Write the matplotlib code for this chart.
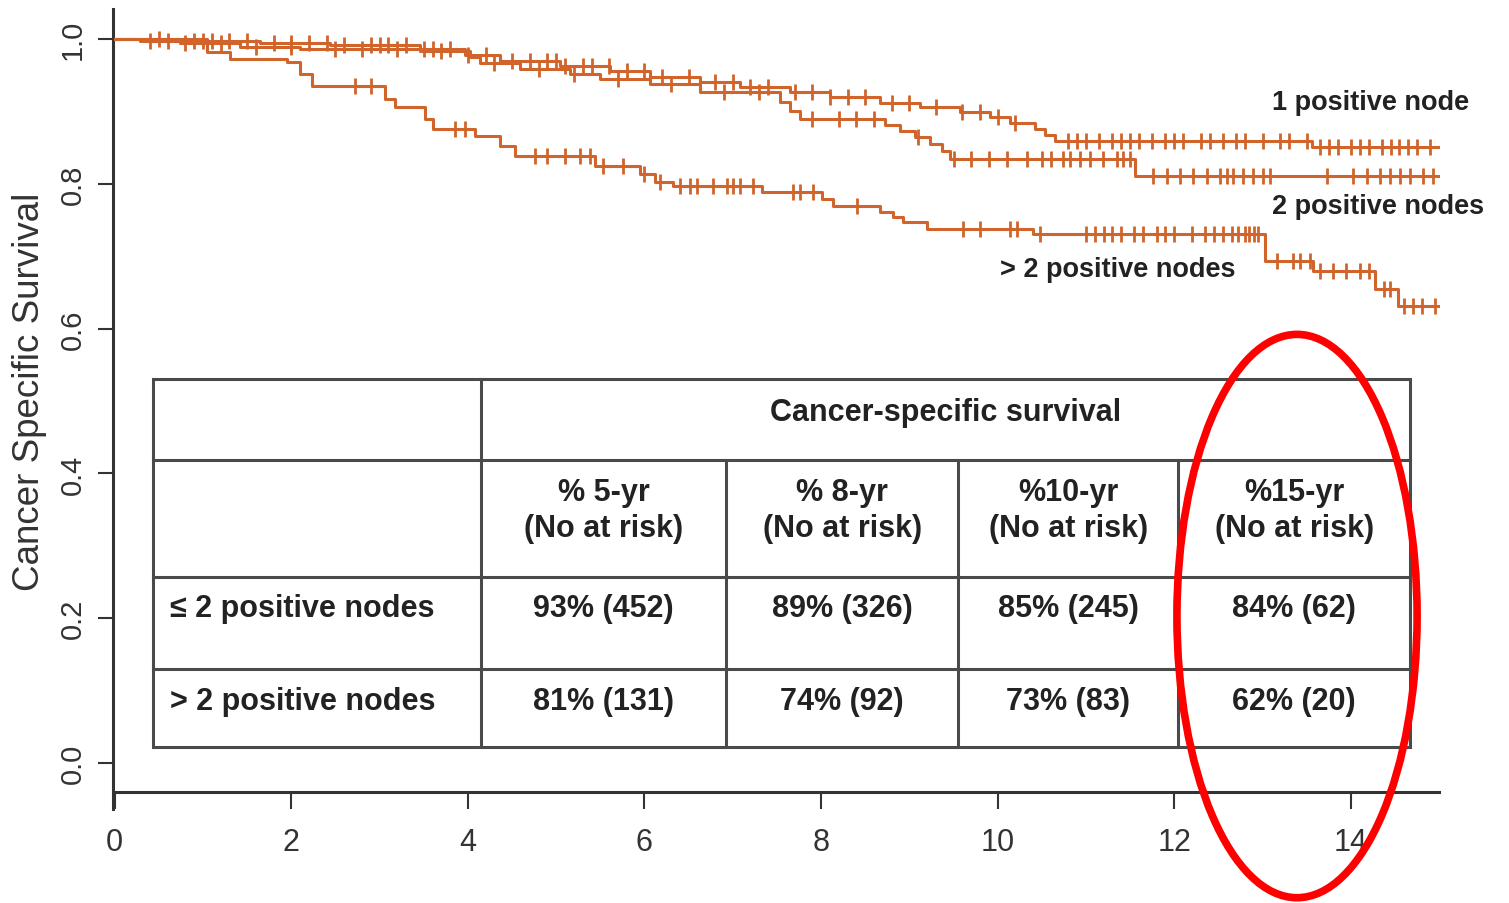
import matplotlib.pyplot as plt
import numpy as np
from matplotlib.patches import Ellipse, Rectangle

plt.rcParams["font.family"] = ["Liberation Sans", "DejaVu Sans"]

CURVE_COLOR = "#D0642A"
TEXT_COLOR = "#222222"
GRID_COLOR = "#4a4a4a"

# Kaplan-Meier steps (years, survival after the drop)
node1_times = [0.29, 1.65, 2.44, 3.46, 3.97, 4.36, 5.04, 5.61, 6.06, 6.63, 7.08, 7.65,
               8.10, 8.67, 9.12, 9.57, 9.91, 10.14, 10.42, 10.54, 10.65, 13.56]
node1_surv = [0.997, 0.994, 0.992, 0.986, 0.978, 0.970, 0.963, 0.956, 0.948, 0.941, 0.934, 0.927,
              0.920, 0.912, 0.906, 0.899, 0.892, 0.884, 0.876, 0.867, 0.859, 0.851]
node1_cens = [0.4, 0.6, 0.9, 1.0, 1.1, 1.3, 1.5, 1.8, 2.0, 2.2, 2.4, 2.6, 2.9, 3.0, 3.1, 3.3,
              3.5, 3.6, 3.8, 4.0, 4.2, 4.5, 4.7, 4.9, 5.0, 5.1, 5.3, 5.4, 5.6, 5.8, 6.0, 6.2,
              6.5, 6.8, 7.0, 7.2, 7.4, 7.7, 7.9, 8.1, 8.3, 8.5, 8.8, 9.0, 9.3, 9.6, 9.8, 10.0,
              10.2, 10.8, 10.9, 11.0, 11.15, 11.3, 11.4, 11.5, 11.6, 11.75, 11.9, 12.0, 12.1,
              12.3, 12.4, 12.55, 12.7, 12.8, 13.0, 13.2, 13.3, 13.5, 13.65, 13.75, 13.85, 14.0,
              14.1, 14.2, 14.35, 14.45, 14.55, 14.65, 14.75, 14.9]

node2_times = [0.74, 1.42, 2.10, 3.46, 4.02, 4.14, 4.59, 5.16, 5.50, 6.06, 6.63, 7.53, 7.65,
               7.76, 8.72, 8.89, 9.06, 9.23, 9.37, 9.46, 11.56]
node2_surv = [0.994, 0.989, 0.986, 0.983, 0.975, 0.967, 0.959, 0.952, 0.945, 0.938, 0.927, 0.913,
              0.901, 0.890, 0.881, 0.873, 0.865, 0.855, 0.845, 0.834, 0.811]
node2_cens = [0.5, 0.8, 1.2, 1.6, 2.0, 2.5, 2.8, 3.2, 3.7, 4.3, 4.8, 5.2, 5.7, 6.3, 6.9, 7.3,
              7.9, 8.2, 8.4, 8.6, 9.1, 9.5, 9.7, 9.9, 10.1, 10.33, 10.5, 10.6, 10.74, 10.82,
              10.93, 11.04, 11.19, 11.35, 11.42, 11.5, 11.76, 11.92, 12.06, 12.21, 12.37, 12.52,
              12.6, 12.67, 12.78, 12.89, 13.0, 13.08, 13.73, 14.02, 14.18, 14.33, 14.44, 14.56,
              14.67, 14.82, 14.93]

node3_times = [1.04, 1.31, 1.95, 2.10, 2.24, 3.06, 3.17, 3.51, 3.60, 4.08, 4.36, 4.53, 5.44,
               5.95, 6.12, 6.32, 7.33, 8.01, 8.14, 8.67, 8.81, 8.93, 9.20, 10.40, 13.03, 13.57,
               14.27, 14.53]
node3_surv = [0.982, 0.972, 0.968, 0.952, 0.935, 0.917, 0.906, 0.890, 0.876, 0.866, 0.852, 0.838,
              0.825, 0.814, 0.802, 0.797, 0.789, 0.779, 0.769, 0.761, 0.754, 0.747, 0.738, 0.731,
              0.693, 0.680, 0.655, 0.631]
node3_cens = [2.72, 2.9, 3.85, 3.97, 4.76, 4.9, 5.1, 5.27, 5.38, 5.53, 5.76, 5.99, 6.18, 6.4,
              6.52, 6.6, 6.78, 6.93, 7.0, 7.08, 7.23, 7.68, 7.76, 7.91, 8.41, 9.61, 9.8, 10.14,
              10.22, 10.48, 11.0, 11.1, 11.2, 11.3, 11.4, 11.54, 11.65, 11.8, 11.9, 12.0, 12.2,
              12.35, 12.45, 12.55, 12.65, 12.72, 12.8, 12.85, 12.9, 12.95, 13.16, 13.35, 13.42,
              13.54, 13.65, 13.8, 13.95, 14.1, 14.2, 14.37, 14.44, 14.6, 14.7, 14.8, 14.95]

END_TIME = 14.99

curve_labels = ["1 positive node", "2 positive nodes", "> 2 positive nodes"]

# table contents
table_title = "Cancer-specific survival"
col_headers = ["% 5-yr\n(No at risk)", "% 8-yr\n(No at risk)", "%10-yr\n(No at risk)", "%15-yr\n(No at risk)"]
row_labels = ["\u2264 2 positive nodes", "> 2 positive nodes"]
row_low = ["93% (452)", "89% (326)", "85% (245)", "84% (62)"]
row_high = ["81% (131)", "74% (92)", "73% (83)", "62% (20)"]

# layout (data units of the plot)
TABLE_X = [0.434, 4.149, 6.924, 9.552, 12.043, 14.67]
TABLE_Y = [0.530, 0.4185, 0.257, 0.130, 0.022]

fig = plt.figure(figsize=(15.09, 9.04), dpi=100)
ax = fig.add_axes([100 / 1509, 84 / 904, 1370 / 1509, 815 / 904])
ax.set_xlim(-0.1665, 15.349)
ax.set_ylim(-0.0773, 1.0483)


def km(times, surv):
    t = np.concatenate([[0.0], times, [END_TIME]])
    s = np.concatenate([[1.0], surv, [surv[-1]]])
    return t, s


for times, surv, cens in [(node1_times, node1_surv, node1_cens),
                          (node2_times, node2_surv, node2_cens),
                          (node3_times, node3_surv, node3_cens)]:
    t, s = km(times, surv)
    ax.step(t, s, where="post", color=CURVE_COLOR, lw=2.2, zorder=3)
    c = np.array(cens)
    idx = np.searchsorted(t, c, side="right") - 1
    ax.plot(c, s[idx], ls="none", marker="|", ms=12, mew=2.0, color=CURVE_COLOR, zorder=3)

ax.text(13.107, 0.913, curve_labels[0], fontsize=19.5, fontweight="bold", color=TEXT_COLOR, va="center")
ax.text(13.107, 0.769, curve_labels[1], fontsize=19.5, fontweight="bold", color=TEXT_COLOR, va="center")
ax.text(10.026, 0.682, curve_labels[2], fontsize=19.5, fontweight="bold", color=TEXT_COLOR, va="center")

# spines in R style
for side in ["top", "right"]:
    ax.spines[side].set_visible(False)
ax.spines["left"].set_position(("data", -0.02))
ax.spines["left"].set_bounds(-0.064, 1.041)
ax.spines["bottom"].set_position(("data", -0.04))
ax.spines["bottom"].set_bounds(0, 15)
for side in ["left", "bottom"]:
    ax.spines[side].set_linewidth(2.2)
    ax.spines[side].set_color("#333333")

ax.set_xticks(range(0, 15, 2))
ax.set_yticks([0.0, 0.2, 0.4, 0.6, 0.8, 1.0])
ax.set_yticklabels(["0.0", "0.2", "0.4", "0.6", "0.8", "1.0"])
ax.tick_params(axis="x", length=12, width=1.5, pad=13, labelsize=22, colors="#333333")
ax.tick_params(axis="y", length=11, width=1.5, pad=8, labelsize=21, colors="#333333")
for lab in ax.get_yticklabels():
    lab.set_rotation(90)
    lab.set_va("center")

fig.text(30 / 1509, 1 - 392 / 904, "Cancer Specific Survival", rotation=90, fontsize=26.5,
         ha="center", va="center", color="#333333")

# table
x0, x1 = TABLE_X[0], TABLE_X[-1]
y0, y1 = TABLE_Y[-1], TABLE_Y[0]
ax.add_patch(Rectangle((x0, y0), x1 - x0, y1 - y0, fill=True, facecolor="white",
                       edgecolor=GRID_COLOR, lw=2.2, zorder=4))
ax.plot([TABLE_X[1], TABLE_X[1]], [y0, y1], color=GRID_COLOR, lw=2.2, zorder=5)
for xv in TABLE_X[2:-1]:
    ax.plot([xv, xv], [y0, TABLE_Y[1]], color=GRID_COLOR, lw=2.2, zorder=5)
for yv in TABLE_Y[1:-1]:
    ax.plot([x0, x1], [yv, yv], color=GRID_COLOR, lw=2.2, zorder=5)

tkw = dict(fontsize=22, fontweight="bold", color=TEXT_COLOR, zorder=6)
ax.text((TABLE_X[1] + x1) / 2, 0.485, table_title, ha="center", va="center", **tkw)
centers = [(TABLE_X[i] + TABLE_X[i + 1]) / 2 for i in range(1, 5)]
for cx, h in zip(centers, col_headers):
    ax.text(cx, 0.349, h, ha="center", va="center", linespacing=1.25, **tkw)
for cx, v in zip(centers, row_low):
    ax.text(cx, 0.214, v, ha="center", va="center", **tkw)
for cx, v in zip(centers, row_high):
    ax.text(cx, 0.086, v, ha="center", va="center", **tkw)
ax.text(0.626, 0.214, row_labels[0], ha="left", va="center", **tkw)
ax.text(0.626, 0.086, row_labels[1], ha="left", va="center", **tkw)

# red highlight around the 15-year column
ax.add_patch(Ellipse((13.39, 0.203), 2.72, 0.778, fill=False, edgecolor="#FF0000", lw=5.5,
                     zorder=7, clip_on=False))

fig.savefig("out.png", dpi=100)
plt.close()
